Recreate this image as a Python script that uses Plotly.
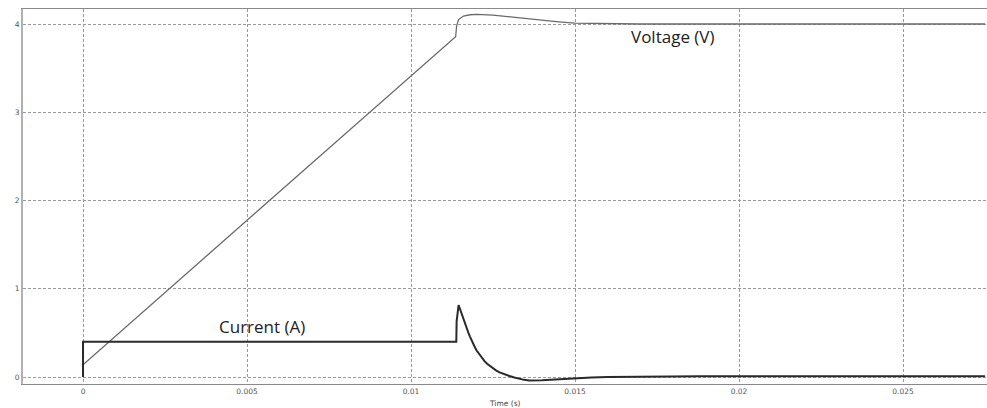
import plotly.graph_objects as go

# Voltage trace (time in s, value in V)
volt_t = [0.0, 0.0, 0.01136, 0.01139, 0.01145, 0.0116, 0.0118, 0.0120, 0.0125, 0.0130,
          0.0135, 0.0140, 0.0145, 0.0150, 0.0160, 0.0170, 0.0275]
volt_v = [0.0, 0.14, 3.856, 3.98, 4.05, 4.09, 4.105, 4.11, 4.10, 4.08,
          4.06, 4.045, 4.025, 4.01, 4.003, 4.0, 4.0]

# Current trace (time in s, value in A)
curr_t = [0.0, 0.0, 0.01138, 0.01139, 0.01145, 0.01150, 0.01155, 0.01160, 0.01165,
          0.01170, 0.01175, 0.01180, 0.01185, 0.01190, 0.01195, 0.01200, 0.01208,
          0.01216, 0.01224, 0.01232, 0.01240, 0.01250, 0.01260, 0.01270, 0.01285,
          0.01300, 0.01315, 0.01330, 0.01345, 0.01360, 0.01380, 0.01400, 0.01425,
          0.01450, 0.01475, 0.01500, 0.01550, 0.01600, 0.01700, 0.01880, 0.02750]
curr_v = [0.0, 0.40, 0.40, 0.63, 0.816, 0.76, 0.70, 0.65, 0.60,
          0.55, 0.50, 0.455, 0.41, 0.37, 0.335, 0.30, 0.255,
          0.215, 0.18, 0.15, 0.125, 0.097, 0.073, 0.053, 0.03,
          0.012, -0.005, -0.02, -0.032, -0.038, -0.04, -0.037, -0.032,
          -0.025, -0.018, -0.012, -0.005, 0.0, 0.005, 0.01, 0.01]

x_ticks = [0, 0.005, 0.01, 0.015, 0.02, 0.025]
x_tick_labels = ["0", "0.005", "0.01", "0.015", "0.02", "0.025"]
y_ticks = [0, 1, 2, 3, 4]
y_tick_labels = ["0", "1", "2", "3", "4"]

fig = go.Figure()
fig.add_trace(go.Scatter(x=volt_t, y=volt_v, mode="lines",
                         line=dict(color="#6a6a6a", width=1.3), showlegend=False))
fig.add_trace(go.Scatter(x=curr_t, y=curr_v, mode="lines",
                         line=dict(color="#2a2a2a", width=2), showlegend=False))

fig.add_annotation(x=0.01799, y=3.864, text="Voltage (V)", showarrow=False,
                   font=dict(family="Open Sans", size=17, color="#222"))
fig.add_annotation(x=0.005457, y=0.567, text="Current (A)", showarrow=False,
                   font=dict(family="Open Sans", size=17, color="#222"))
fig.add_annotation(x=0.5, xref="paper", y=0, yref="paper", yanchor="middle",
                   yshift=-19, text="Time (s)", showarrow=False,
                   font=dict(family="DejaVu Sans", size=7.5, color="#444"))

fig.update_layout(
    width=987, height=408,
    margin=dict(l=23, r=0, t=9, b=24),
    plot_bgcolor="white", paper_bgcolor="white",
    xaxis=dict(range=[-0.00183, 0.02756], tickvals=x_ticks, ticktext=x_tick_labels,
               showgrid=True, gridcolor="#9a9a9a", griddash="3px,2px", gridwidth=1,
               zeroline=False, showline=True, linecolor="#8a8a8a", linewidth=1,
               mirror=True, ticks="", automargin=False,
               tickfont=dict(family="DejaVu Sans", size=7.5, color="#555")),
    yaxis=dict(range=[-0.079, 4.17], tickvals=y_ticks, ticktext=y_tick_labels,
               showgrid=True, gridcolor="#9a9a9a", griddash="3px,2px", gridwidth=1,
               zeroline=False, showline=True, linecolor="#b0b0b0", linewidth=2,
               ticks="", automargin=False,
               tickfont=dict(family="DejaVu Sans", size=7.5, color="#555")),
)

fig.write_html("out.html", config={"displayModeBar": False},
               post_script="document.body.style.margin='0';document.body.style.overflow='hidden';")
